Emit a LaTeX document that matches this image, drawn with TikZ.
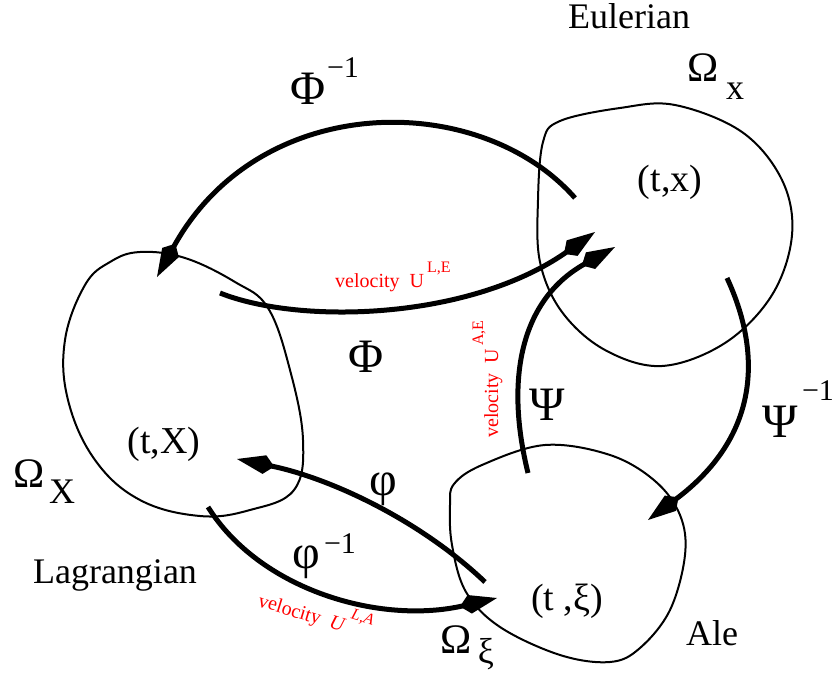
\documentclass[tikz,border=0pt]{standalone}
\usepackage{fontspec}
\setmainfont{Liberation Serif}
\usetikzlibrary{arrows.meta}
\tikzset{
  blob/.style={line width=2pt, black},
  maparrow/.style={line width=5pt, black, -{Kite[length=38pt,width=19pt,inset=10pt]}},
  lbl/.style={anchor=base, inner sep=0pt, font=\fontsize{36}{40}\selectfont},
  biglbl/.style={anchor=base, inner sep=0pt, font=\fontsize{48}{52}\selectfont},
  suplbl/.style={anchor=base, inner sep=0pt, font=\fontsize{30}{34}\selectfont},
  vel/.style={anchor=base west, inner sep=0pt, text=red, font=\fontsize{20}{24}\selectfont},
}
\newcommand{\velsup}[1]{\raisebox{15pt}{\fontsize{16}{18}\selectfont #1}}
\begin{document}
\begin{tikzpicture}[x=1pt,y=-1pt]
\useasboundingbox (0,0) rectangle (833,682);
% blobs
\draw[blob] plot[smooth cycle, tension=0.6] coordinates {(538,200) (543,142) (560,121) (620,108) (675,105) (742,132) (782,180) (792,235) (772,295) (725,343) (662,366) (605,350) (562,312) (540,262)};
\draw[blob] plot[smooth cycle, tension=0.65] coordinates {(140,252) (185,258) (235,282) (268,308) (290,370) (303,440) (294,490) (250,510) (200,516) (140,500) (95,460) (68,400) (65,340) (85,285) (110,262)};
\draw[blob] plot[smooth cycle, tension=0.6] coordinates {(454,484) (482,465) (545,445) (610,455) (655,481) (680,515) (685,555) (670,610) (640,648) (610,662) (560,655) (500,627) (466,592) (452,545) (450,505)};
% anchor points
\coordinate (phiinvS) at (575,198);
\coordinate (phiinvE) at (157,277);
\coordinate (PhiS) at (220,293);
\coordinate (PhiE) at (595,232);
\coordinate (PsiS) at (528,473);
\coordinate (PsiE) at (615,247);
\coordinate (PsiinvS) at (727,278);
\coordinate (PsiinvE) at (648,520);
\coordinate (vphS) at (485,582);
\coordinate (vphE) at (237,459);
\coordinate (vphinvS) at (208,507);
\coordinate (vphinvE) at (497,598);
% arrows
\draw[maparrow] (phiinvS) .. controls (480,90) and (260,90) .. (phiinvE);
\draw[maparrow] (PhiS) .. controls (300,325) and (470,320) .. (PhiE);
\draw[maparrow] (PsiS) .. controls (505,380) and (520,300) .. (PsiE);
\draw[maparrow] (PsiinvS) .. controls (765,360) and (755,440) .. (PsiinvE);
\draw[maparrow] (vphS) .. controls (420,520) and (330,478) .. (vphE);
\draw[maparrow] (vphinvS) .. controls (260,590) and (380,625) .. (vphinvE);
% domain labels
\node[lbl] (eul) at (629,29) {Eulerian};
\node[lbl] (lag) at (115,583) {Lagrangian};
\node[lbl] (ale) at (712,645) {Ale};
\node[lbl, font=\fontsize{38}{42}\selectfont] (tx) at (670,191) {(t,x)};
\node[lbl, font=\fontsize{38}{42}\selectfont] (tX) at (164,453) {(t,X)};
\node[lbl, font=\fontsize{38}{42}\selectfont] (txi) at (567,610) {(t ,ξ)};
\node[lbl, font=\fontsize{42}{46}\selectfont] (Omx) at (703,82) {Ω};
\node[lbl] (Omxs) at (735,100) {x};
\node[lbl, font=\fontsize{42}{46}\selectfont] (OmX) at (29,487) {Ω};
\node[lbl] (OmXs) at (62,503) {X};
\node[lbl, font=\fontsize{42}{46}\selectfont] (Omxi) at (456,653) {Ω};
\node[lbl] (Omxis) at (486,663) {ξ};
% map labels
\node[biglbl] (lPhiinv) at (308,105) {Φ};
\node[suplbl] (lPhiinvs) at (343,78) {−1};
\node[biglbl] (lPhi) at (366,372) {Φ};
\node[biglbl] (lPsi) at (547,420) {Ψ};
\node[biglbl] (lPsiinv) at (780,437) {Ψ};
\node[suplbl] (lPsiinvs) at (818,400) {−1};
\node[biglbl] (lvph) at (383,495) {φ};
\node[biglbl] (lvphinv) at (306,568) {φ};
\node[suplbl] (lvphinvs) at (340,553) {−1};
% velocity labels
\node[vel] (vLE) at (335,287) {velocity\enspace U\hspace{3pt}\velsup{L,E}};
\node[vel, rotate=90] (vAE) at (498,438) {velocity\enspace U\hspace{3pt}\velsup{A,E}};
\node[vel, rotate=-17] (vLA) at (257,606) {velocity\enspace \textit{U}\hspace{3pt}\velsup{\textit{L,A}}};
\end{tikzpicture}
\end{document}
